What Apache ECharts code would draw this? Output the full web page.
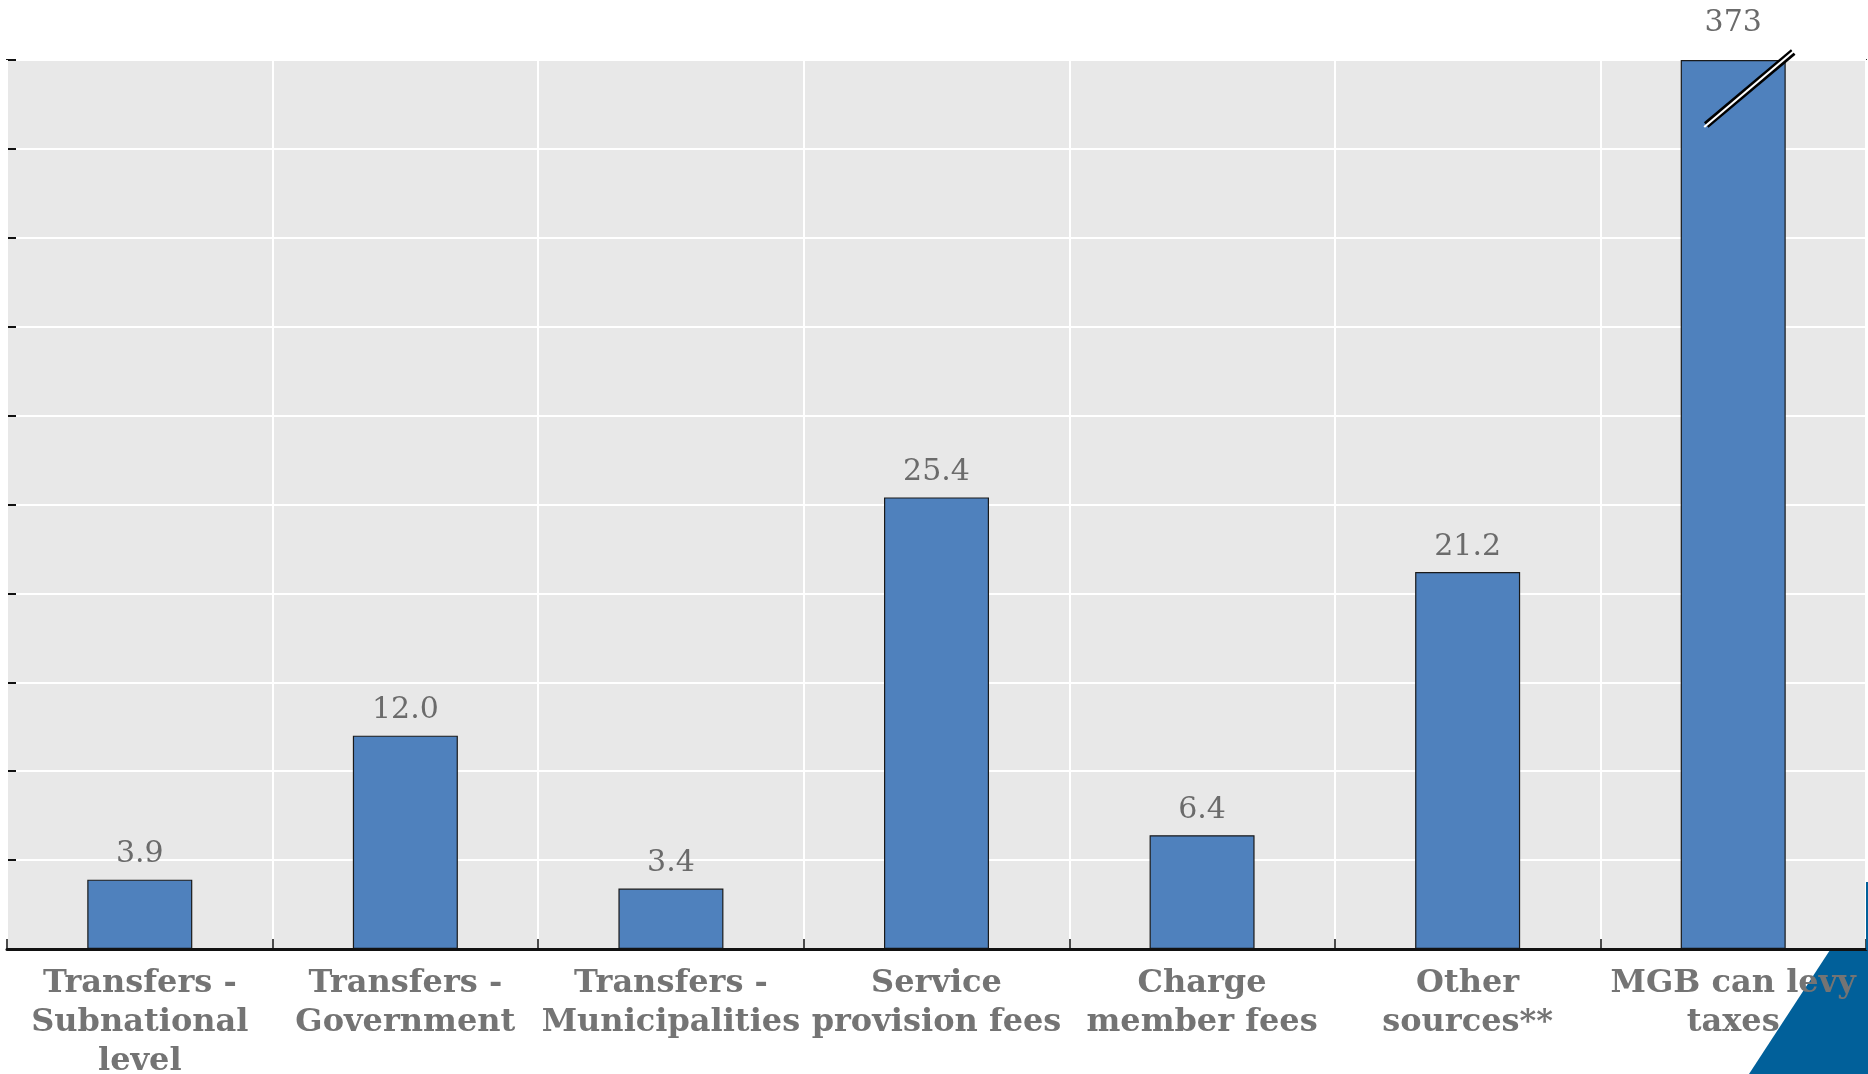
<!DOCTYPE html>
<html>
<head>
<meta charset="utf-8">
<script src="https://cdn.jsdelivr.net/npm/echarts@6/dist/echarts.min.js"></script>
<style>
  html, body {margin: 0; padding: 0; background: #fff;}
  #chart {width: 1868px; height: 1074px;}
</style>
</head>
<body>
<div id="chart"></div>
<script>
// categories (line breaks as in the original)
const categories = [
  'Transfers -\nSubnational\nlevel',
  'Transfers -\nGovernment',
  'Transfers -\nMunicipalities',
  'Service\nprovision fees',
  'Charge\nmember fees',
  'Other\nsources**',
  'MGB can levy\ntaxes'
];
const values = [3.9, 12.0, 3.4, 25.4, 6.4, 21.2, 373];

const yMax = 50;
const yStep = 5;

// last bar is cut at the top of the axis, label keeps the real value
const shown = values.map(v => ({
  value: Math.min(v, yMax),
  label: v > yMax ? {distance: 22} : undefined
}));

const chart = echarts.init(document.getElementById('chart'));

const option = {
  animation: false,
  grid: {
    left: 7, right: 2, top: 60, bottom: 125,
    containLabel: false,
    outerBoundsMode: 'none',
    show: true,
    backgroundColor: '#e8e8e8',
    borderColor: '#2a2a2a',
    borderWidth: 2
  },
  xAxis: {
    type: 'category',
    data: categories,
    z: 10,
    axisLine: {lineStyle: {color: '#111', width: 3}},
    axisTick: {show: true, inside: true, length: 10, lineStyle: {color: '#111', width: 1.5}},
    splitLine: {show: true, lineStyle: {color: '#fff', width: 2}},
    axisLabel: {
      interval: 0,
      margin: 15,
      color: '#747474',
      fontFamily: 'DejaVu Serif',
      fontWeight: 'bold',
      fontSize: 32,
      lineHeight: 39
    }
  },
  yAxis: {
    type: 'value',
    min: 0,
    max: yMax,
    interval: yStep,
    axisLine: {show: true, lineStyle: {color: '#111', width: 2}},
    axisTick: {show: true, inside: true, length: 9, lineStyle: {color: '#111', width: 2}},
    axisLabel: {show: false},
    splitLine: {lineStyle: {color: '#fff', width: 2}}
  },
  series: [{
    type: 'bar',
    data: shown,
    barWidth: 105,
    itemStyle: {color: '#4f81bd', borderColor: '#1a1a1a', borderWidth: 1.2},
    label: {
      show: true,
      position: 'top',
      distance: 10,
      color: '#6b6b6b',
      fontFamily: 'DejaVu Serif',
      fontSize: 30,
      formatter: p => {
        const v = values[p.dataIndex];
        return v > yMax ? String(v) : v.toFixed(1);
      }
    }
  }]
};

chart.setOption(option);

// break mark on the cut bar + corner decoration
const cut = values.findIndex(v => v > yMax);
const [cx, cutTop] = chart.convertToPixel({xAxisIndex: 0, yAxisIndex: 0}, [cut, yMax]);
const W = chart.getWidth(), H = chart.getHeight();
const axisY = chart.convertToPixel({yAxisIndex: 0}, 0);

chart.setOption({
  graphic: [
    {
      type: 'line', z: 100,
      shape: {x1: cx - 27, y1: cutTop + 65, x2: cx + 60, y2: cutTop - 8},
      style: {stroke: '#000', lineWidth: 7}
    },
    {
      type: 'line', z: 101,
      shape: {x1: cx - 29, y1: cutTop + 67, x2: cx + 62, y2: cutTop - 10},
      style: {stroke: '#fff', lineWidth: 2.2}
    },
    {
      type: 'polygon', z: -1,
      shape: {points: [[W, axisY + 1], [W, H], [W - 119, H], [W - 38, axisY + 1]]},
      style: {fill: '#01609a'}
    },
    {
      type: 'rect', z: 50,
      shape: {x: W - 2, y: axisY - 67, width: 2, height: 68},
      style: {fill: '#01609a'}
    }
  ]
});
</script>
</body>
</html>
